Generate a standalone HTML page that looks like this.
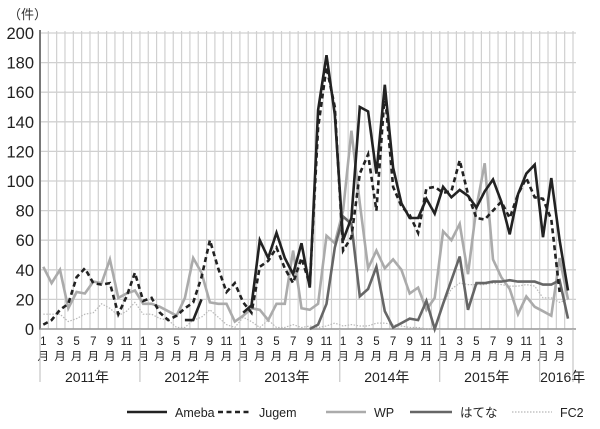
<!DOCTYPE html>
<html><head><meta charset="utf-8"><style>
html,body{margin:0;padding:0;background:#fff;}
svg{display:block;font-family:"Liberation Sans","Noto Sans CJK JP",sans-serif;}
</style></head><body>
<svg id="chart" width="600" height="429" viewBox="0 0 600 429" xmlns="http://www.w3.org/2000/svg">
<text x="8" y="19" font-size="13" fill="#333">（件）</text>
<g id="grid"></g><g id="axes"></g><g id="series"></g><g id="legend"></g>
</svg>
<script>
const years = ["2011年","2012年","2013年","2014年","2015年","2016年"];
const yTicks = [0,20,40,60,80,100,120,140,160,180,200];
const N = 64;
const ameba = [null,null,null,null,null,null,null,null,null,null,null,null,
 null,null,null,null,null,6,6,20,null,null,null,null,
 11,16,60,48,65,48,37,58,28,148,185,145,
 60,75,150,147,105,165,109,85,75,75,88,78,
 96,89,94,90,82,93,101,86,64,91,105,111,
 62,102,60,26];
const jugem = [3,6,13,17,35,41,31,30,31,10,22,38,
 19,21,11,6,9,14,18,35,60,41,25,31,
 18,11,42,46,55,41,31,48,30,136,177,150,
 53,62,105,118,80,160,96,83,77,65,95,96,
 92,93,114,91,75,74,80,86,75,91,102,89,
 88,74,25,null];
const wp = [42,31,40,14,25,24,32,31,47,21,24,26,
 17,17,15,12,9,21,48,38,18,17,17,5,
 9,14,13,6,17,17,53,14,13,17,63,58,
 80,134,85,41,53,41,47,40,24,28,13,21,
 66,60,71,37,82,112,47,35,27,10,22,15,
 12,9,48,20];
const hatena = [null,null,null,null,null,null,null,null,null,null,null,null,
 null,null,null,null,null,null,null,null,null,null,null,null,
 null,null,null,null,null,null,null,null,0,3,17,55,
 76,71,22,27,42,12,1,4,7,6,19,0,
 17,33,49,13,31,31,32,32,33,32,32,32,
 30,30,33,7];
const fc2 = [10,10,10,5,7,10,11,17,14,9,12,18,
 10,10,7,6,1,1,6,8,13,8,3,1,
 8,5,1,6,1,1,3,1,2,1,2,4,
 2,3,2,2,4,4,3,2,1,1,0,0,
 17,27,31,30,30,30,31,30,29,29,30,29,
 21,21,18,20];

const NS="http://www.w3.org/2000/svg";
const L=40, R=573, Y0=329, Y200=33, STEP=(R-L)/N;
const xS = i => 43.3 + STEP*i;
const yS = v => Y0 - (v/200)*(Y0-Y200);
function mk(tag, attrs, parent){const e=document.createElementNS(NS,tag);for(const k in attrs)e.setAttribute(k,attrs[k]);parent.appendChild(e);return e;}
const grid=document.getElementById('grid'), axes=document.getElementById('axes'), ser=document.getElementById('series'), leg=document.getElementById('legend');

for(let k=1;k<=N;k++){
  const g=mk('line',{x1:L+STEP*k,x2:L+STEP*k,y1:Y200-2,y2:Y0,stroke:'#d0d0d0','stroke-width':1.2},grid);
  
  
}
yTicks.forEach(v=>{
  const g=mk('line',{x1:L,x2:576,y1:yS(v),y2:yS(v),stroke:'#d0d0d0','stroke-width':1.3},grid);
  
  
  const t=mk('text',{x:34,y:yS(v)+6,'font-size':16.5,'text-anchor':'end',fill:'#222'},axes);
  t.textContent=v;
  
  
});
const ya=mk('line',{x1:L,x2:L,y1:Y200-3,y2:Y0+1,stroke:'#777','stroke-width':2},axes);


const xa=mk('line',{x1:L,x2:576,y1:Y0,y2:Y0,stroke:'#999','stroke-width':1.5},axes);



for(let i=0;i<N;i+=2){
  const m=(i%12)+1;
  const t=mk('text',{x:xS(i),y:345,'font-size':11.5,'text-anchor':'middle',fill:'#222'},axes);
  t.textContent=m;
  
  
  const t2=mk('text',{x:xS(i),y:360,'font-size':11.5,'text-anchor':'middle',fill:'#222'},axes);
  t2.textContent='月';
  
  
}
years.forEach((y,k)=>{
  const x=L+STEP*12*k;
  const s=mk('line',{x1:x,x2:x,y1:Y0,y2:382,stroke:'#bbb','stroke-width':1},axes);
  
  
  const cx = k<5 ? x+47 : x+23;
  const t=mk('text',{x:cx,y:382,'font-size':14,'text-anchor':'middle',fill:'#222'},axes);
  t.textContent=y;
  
  
});
const se=mk('line',{x1:R,x2:R,y1:Y0,y2:382,stroke:'#bbb','stroke-width':1},axes);



function pathOf(arr){let d='',pen=false;arr.forEach((v,i)=>{if(v==null){pen=false;return;}d+=(pen?'L':'M')+xS(i).toFixed(1)+','+yS(v).toFixed(1);pen=true;});return d;}
const styles=[
 {arr:fc2,name:'fc2-line',stroke:'#b8b8b8',w:1.2,dash:'1.5,1.5',label:'FC2'},
 {arr:wp,name:'wp-line',stroke:'#ababab',w:2.6,dash:null,label:'WP'},
 {arr:hatena,name:'hatena-line',stroke:'#666',w:2.6,dash:null,label:'はてな'},
 {arr:jugem,name:'jugem-line',stroke:'#222',w:2.6,dash:'5,3.5',label:'Jugem'},
 {arr:ameba,name:'ameba-line',stroke:'#222',w:2.6,dash:null,label:'Ameba'}
];
styles.forEach(s=>{
  const p=mk('path',{d:pathOf(s.arr),fill:'none',stroke:s.stroke,'stroke-width':s.w,'stroke-linejoin':'miter'},ser);
  if(s.dash)p.setAttribute('stroke-dasharray',s.dash);
  
  
});
const legendItems=[
 {x1:127,x2:167,tx:175,st:styles[4]},
 {x1:218,x2:252,tx:259,st:styles[3]},
 {x1:326,x2:366,tx:374,st:styles[1]},
 {x1:410,x2:452,tx:460,st:styles[2]},
 {x1:512,x2:552,tx:560,st:styles[0]}
];
legendItems.forEach(li=>{
  const g=mk('g',{},leg);
  
  
  const l=mk('line',{x1:li.x1,x2:li.x2,y1:412,y2:412,stroke:li.st.stroke,'stroke-width':li.st.w},g);
  if(li.st.dash)l.setAttribute('stroke-dasharray',li.st.dash);
  
  
  const t=mk('text',{x:li.tx,y:417,'font-size':12.5,fill:'#222'},g);
  t.textContent=li.st.label;
  
  
});
</script>
</body></html>
